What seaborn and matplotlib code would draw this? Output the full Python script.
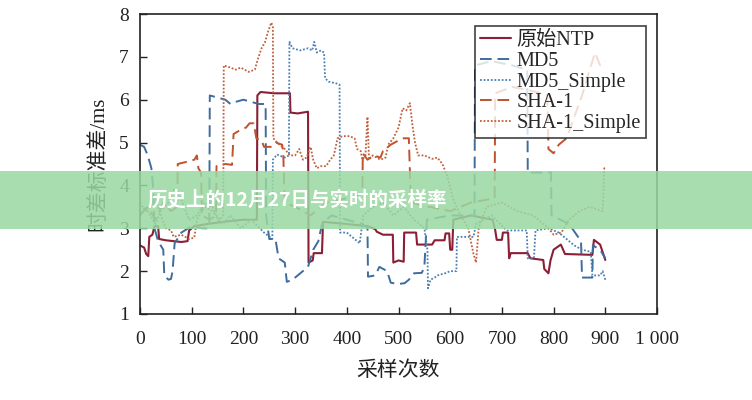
import numpy as np
import pandas as pd
import matplotlib
matplotlib.use("Agg")
import matplotlib.pyplot as plt
from matplotlib.patches import Rectangle
import seaborn as sns

# sampling index / time-offset std (ms)
ntp_x = [0, 8, 12, 16, 18, 24, 28, 35, 37, 50, 65, 80, 92, 95, 105, 130, 160, 200, 226, 227, 233, 260, 290, 291,
         305, 325, 326, 334, 336, 352, 354, 400, 440, 455, 458, 470, 489, 490, 500, 510, 511, 534, 536, 565, 570,
         589, 591, 598, 600, 604, 606, 640, 682, 687, 690, 700, 702, 712, 714, 717, 750, 755, 780, 782, 790, 794,
         800, 814, 822, 875, 878, 890, 900]
ntp_y = [2.6, 2.55, 2.4, 2.35, 2.8, 2.85, 3.05, 3.05, 2.75, 2.72, 2.7, 2.68, 2.7, 2.95, 3.05, 3.1, 3.15, 3.2, 3.2,
         6.1, 6.18, 6.15, 6.15, 5.7, 5.68, 5.72, 2.2, 2.25, 2.42, 2.42, 3.15, 3.1, 3.05, 2.98, 2.92, 2.85, 2.85,
         2.2, 2.25, 2.22, 2.9, 2.9, 2.62, 2.62, 2.72, 2.72, 2.88, 2.88, 2.5, 2.5, 3.2, 3.3, 3.2, 2.96, 2.73, 2.73,
         2.9, 2.9, 2.3, 2.42, 2.42, 2.3, 2.26, 2.05, 1.95, 2.25, 2.5, 2.62, 2.4, 2.38, 2.73, 2.62, 2.26]

md5_x = [0, 8, 15, 22, 25, 28, 35, 45, 47, 55, 60, 63, 67, 80, 100, 120, 134, 135, 150, 165, 175, 185, 200, 215,
         230, 243, 244, 250, 262, 268, 280, 284, 295, 305, 315, 325, 335, 345, 352, 370, 400, 430, 440, 441, 455,
         463, 478, 485, 500, 512, 520, 530, 545, 550, 555, 600, 630, 647, 648, 680, 720, 749, 750, 795, 796, 830,
         853, 855, 875, 876, 890, 900]
md5_y = [4.95, 4.9, 4.7, 4.4, 4.0, 3.0, 2.7, 2.5, 1.9, 1.8, 1.82, 2.0, 2.65, 2.9, 3.05, 3.0, 3.0, 6.1, 6.05, 6.0,
         5.9, 5.95, 6.0, 5.95, 5.9, 5.9, 3.3, 2.75, 2.75, 2.3, 2.2, 1.75, 1.8, 1.9, 2.0, 2.1, 2.5, 2.7, 3.1, 3.3,
         3.2, 3.1, 3.0, 1.87, 1.9, 2.1, 2.0, 1.73, 1.7, 1.72, 1.8, 1.95, 1.96, 2.1, 3.2, 3.3, 3.3, 3.3, 6.8, 6.9,
         6.8, 6.7, 4.3, 4.3, 3.3, 3.1, 2.7, 1.85, 1.85, 2.6, 2.5, 2.3]

md5s_x = [0, 10, 20, 30, 40, 55, 65, 75, 85, 95, 110, 125, 140, 150, 160, 175, 195, 215, 240, 256, 257, 265, 280,
          288, 289, 295, 310, 325, 333, 337, 342, 350, 356, 358, 365, 380, 386, 387, 400, 410, 417, 425, 432, 450,
          470, 490, 510, 530, 550, 556, 557, 562, 570, 575, 590, 600, 612, 613, 645, 650, 680, 705, 710, 748, 750,
          762, 765, 790, 810, 820, 840, 855, 872, 875, 890, 895, 900]
md5s_y = [3.3, 3.5, 3.3, 3.1, 3.4, 3.6, 3.9, 3.85, 3.5, 3.2, 3.3, 3.6, 3.5, 3.2, 3.1, 3.3, 3.0, 3.2, 2.9, 2.75,
          4.6, 4.72, 4.65, 4.7, 7.35, 7.2, 7.15, 7.2, 7.15, 7.35, 7.1, 7.15, 7.1, 6.5, 6.42, 6.38, 6.35, 2.9, 2.9,
          2.8, 2.73, 2.65, 3.3, 3.5, 3.6, 3.3, 3.5, 3.2, 3.0, 2.5, 1.6, 1.8, 1.85, 1.9, 1.95, 2.0, 2.0, 2.8, 2.8,
          3.1, 3.3, 3.0, 2.95, 2.95, 2.3, 2.3, 2.95, 3.0, 2.9, 2.8, 2.6, 2.5, 2.45, 1.9, 1.9, 2.0, 1.8]

sha_x = [0, 15, 30, 45, 60, 72, 73, 90, 105, 110, 113, 118, 120, 135, 147, 148, 165, 178, 181, 195, 205, 212, 220,
         225, 235, 240, 255, 263, 275, 277, 280, 300, 330, 360, 400, 430, 431, 440, 452, 465, 470, 485, 500, 510,
         520, 524, 560, 600, 640, 686, 687, 720, 760, 788, 790, 800, 810, 825, 840, 855, 870, 880, 890, 900]
sha_y = [3.3, 3.5, 3.2, 3.6, 3.4, 3.5, 4.5, 4.55, 4.6, 4.7, 4.4, 4.3, 3.3, 3.2, 3.3, 4.45, 4.5, 4.48, 5.2, 5.3,
         5.35, 5.45, 5.45, 5.1, 5.05, 4.9, 4.9, 5.0, 4.95, 4.77, 3.6, 3.5, 3.3, 3.6, 3.7, 3.8, 4.75, 4.6, 4.7,
         4.65, 4.8, 4.95, 5.05, 5.1, 5.1, 3.6, 3.5, 3.4, 3.6, 3.7, 6.15, 6.3, 6.2, 6.1, 4.85, 4.75, 4.95, 5.1,
         5.6, 6.1, 6.7, 7.1, 6.8, 6.9]

shas_x = [0, 10, 20, 30, 40, 50, 60, 65, 80, 95, 105, 110, 125, 140, 155, 161, 162, 175, 185, 195, 210, 222, 228,
          235, 242, 248, 254, 257, 258, 265, 275, 280, 290, 300, 308, 315, 322, 330, 335, 342, 350, 360, 368, 375,
          382, 392, 405, 415, 420, 427, 430, 436, 440, 443, 450, 465, 475, 480, 490, 500, 508, 515, 522, 527, 532,
          538, 550, 565, 575, 585, 595, 605, 620, 635, 645, 650, 655, 670, 700, 730, 760, 790, 800, 815, 830, 850,
          870, 895, 898, 900]
shas_y = [3.6, 3.4, 3.5, 3.7, 3.3, 3.0, 2.95, 2.8, 2.85, 2.75, 2.78, 3.2, 3.5, 3.4, 3.2, 3.3, 6.8, 6.75, 6.7, 6.75,
          6.65, 6.7, 6.95, 7.2, 7.35, 7.6, 7.8, 7.7, 5.1, 5.0, 4.9, 4.85, 4.7, 4.7, 4.85, 4.6, 4.65, 4.9, 4.6, 4.4,
          4.45, 4.45, 4.6, 4.7, 5.1, 5.15, 5.15, 5.1, 4.85, 4.8, 4.6, 4.7, 5.6, 4.6, 4.7, 4.6, 4.65, 4.95, 5.1,
          5.35, 5.8, 5.75, 5.92, 5.4, 5.0, 4.7, 4.7, 4.62, 4.65, 4.5, 4.2, 3.7, 3.3, 3.0, 2.4, 2.2, 3.0, 3.5, 3.6,
          3.4, 3.3, 3.0, 2.85, 2.9, 3.2, 3.4, 3.5, 3.4, 4.4, 4.4]

series_names = ["原始NTP", "MD5", "MD5_Simple", "SHA-1", "SHA-1_Simple"]
series_colors = ["#8a1f35", "#3e6c9c", "#4a80b4", "#c0522e", "#c0603c"]
series_dash = [(None, 1.5), ((6, 3), 1.4), ((1, 1), 1.3), ((6, 3), 1.4), ((1, 1), 1.3)]

sns.set_style("ticks")
plt.rcParams["font.family"] = ["Liberation Serif", "Noto Sans CJK SC"]
plt.rcParams["axes.unicode_minus"] = False

fig = plt.figure(figsize=(7.52, 4.0), dpi=100)
ax = fig.add_axes([140 / 752, 1 - 314 / 400, 517 / 752, 300 / 400])

all_x = [ntp_x, md5_x, md5s_x, sha_x, shas_x]
all_y = [ntp_y, md5_y, md5s_y, sha_y, shas_y]
for name, xs, ys, col, (dash, lw) in zip(series_names, all_x, all_y, series_colors, series_dash):
    df = pd.DataFrame({"x": xs, "y": ys})
    line_ax = sns.lineplot(data=df, x="x", y="y", ax=ax, estimator=None, sort=False,
                           color=col, linewidth=lw, label=name)
    if dash is not None:
        line_ax.lines[-1].set_dashes(dash)

ax.set_xlim(0, 1000)
ax.set_ylim(1, 8)
ax.set_xticks(np.arange(0, 1001, 100))
ax.set_xticklabels([str(v) if v < 1000 else "1 000" for v in range(0, 1001, 100)])
ax.set_yticks(range(1, 9))
ax.tick_params(direction="in", length=5, width=1, labelsize=14, pad=8, colors="#222222")
ax.tick_params(axis="x", pad=12)
for sp in ax.spines.values():
    sp.set_visible(True)
    sp.set_color("#222222")
    sp.set_linewidth(1.2)

ax.set_xlabel("采样次数", fontsize=15, labelpad=10, color="#222222")
ax.set_ylabel("时差标准差/ms", fontsize=15, labelpad=8, color="#222222")

leg = ax.legend(loc="upper right", bbox_to_anchor=(0.979, 0.96), fontsize=14.5, frameon=True, fancybox=False,
                framealpha=0.8, edgecolor="#111111", labelspacing=0.08, handlelength=1.5,
                handletextpad=0.3, borderpad=0.25, borderaxespad=0.0)
leg.get_frame().set_linewidth(1.2)

# green caption band across the figure
fig.add_artist(Rectangle((0, 1 - 229 / 400), 1, 58 / 400, transform=fig.transFigure,
                         facecolor="#99d8a2", alpha=0.85, edgecolor="none", zorder=5))
fig.text(148 / 752, 0.5, "历史上的12月27日与实时的采样率", fontsize=14, fontweight="bold",
         color="white", ha="left", va="center", family=["Noto Sans CJK SC", "DejaVu Sans"], zorder=6)

fig.savefig("out.png", dpi=100)
